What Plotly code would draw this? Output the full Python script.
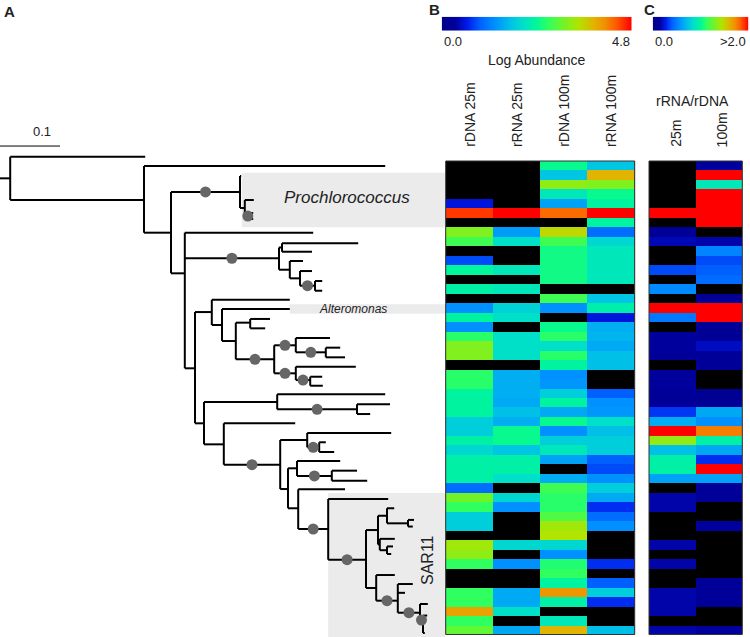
import numpy as np
import plotly.graph_objects as go
from collections import defaultdict

N = None
# ---------------- heatmap data ----------------
columns_B = ["rDNA 25m", "rRNA 25m", "rDNA 100m", "rRNA 100m"]
columns_C = ["25m", "100m"]
colorbar_B_ticks = ["0.0", "4.8"]
colorbar_C_ticks = ["0.0", ">2.0"]
log_abundance_max = 4.8
ratio_max = 2.0

rdna_25 = [N,N,N,N,0.58,4.56,N,3.17,2.78,N,0.86,2.40,N,2.30,N,1.34,2.35,1.34,2.64,3.17,
           3.17,N,2.64,2.64,2.35,2.35,2.35,1.87,1.87,2.30,1.97,2.30,2.30,2.30,1.06,3.07,2.69,1.87,1.87,N,
           3.36,3.26,2.69,N,N,2.69,2.69,3.98,2.69,2.98]
rrna_25 = [N,N,N,N,N,4.80,N,1.44,2.06,N,N,2.16,N,2.16,N,1.92,2.06,N,2.06,2.06,
           2.06,N,1.58,1.58,1.58,1.54,1.73,1.58,2.45,2.45,1.78,2.30,2.30,2.06,N,1.97,1.34,N,N,N,
           1.97,N,1.34,N,N,1.54,1.54,2.06,N,1.54]
rdna_100 = [2.45,1.78,3.26,2.16,1.49,4.32,N,3.55,2.78,2.50,2.50,2.50,2.50,N,2.78,1.34,N,2.45,2.64,2.06,
            2.64,2.35,1.34,1.39,1.87,2.35,1.54,2.45,1.34,1.87,2.16,1.49,N,1.58,2.78,2.64,2.64,2.88,3.36,3.46,
            1.97,1.34,2.59,2.69,2.35,4.08,2.30,N,2.16,3.84]
rrna_100 = [1.78,3.84,3.17,2.45,2.35,4.80,2.35,1.06,1.97,2.16,2.16,2.16,2.16,N,1.78,2.26,0.58,1.58,1.63,1.54,
            1.73,1.73,N,N,0.96,1.34,1.39,2.06,1.73,1.87,1.87,0.96,0.86,1.34,1.87,1.54,0.72,1.06,1.34,N,
            N,N,0.72,N,0.96,1.87,0.72,N,N,1.73]
ratio_25 = [N,N,N,N,N,2.6,N,0.10,0.18,N,N,0.36,N,0.54,N,3.1,0.48,N,0.14,0.14,
            0.12,N,0.14,0.14,0.12,0.12,0.32,0.66,2.4,1.36,0.72,0.96,0.96,0.62,N,0.16,0.16,N,N,N,
            0.16,N,0.16,N,N,0.16,0.16,0.16,N,0.16]
ratio_100 = [0.14,2.8,0.90,3.5,2.2,4.1,2.6,N,0.16,0.52,0.36,0.40,0.44,N,0.10,2.3,2.9,0.10,0.10,0.20,
             0.12,0.12,N,N,0.08,0.10,0.64,0.56,1.76,0.96,0.64,0.30,2.5,0.62,0.12,0.12,N,N,0.14,N,
             N,N,N,N,0.12,0.12,0.12,N,N,0.14]

# ---------------- tree data: (node, parent, depth [subst./site], row position, supported) ----------------
tree_nodes = [
    ("R", None, 0.017, 1.33, 0),
    ("A", "R", 0.242, -0.95, 0),
    ("N1", "R", 0.240, 3.62, 0),
    ("B", "N1", 0.642, 0.03, 0),
    ("N2", "N1", 0.285, 7.07, 0),
    ("Pro", "N2", 0.400, 2.77, 1),
    ("p1", "Pro", 0.402, 1.08, 0),
    ("p2", "Pro", 0.408, 4.46, 0),
    ("p3", "p2", 0.423, 3.62, 0),
    ("p4", "p2", 0.418, 5.31, 1),
    ("p5", "p4", 0.422, 4.99, 0),
    ("p6", "p4", 0.422, 5.62, 0),
    ("N4", "N2", 0.308, 11.36, 0),
    ("La", "N4", 0.522, 7.07, 0),
    ("C1", "N4", 0.465, 9.77, 1),
    ("C2", "C1", 0.470, 8.63, 0),
    ("c2a", "C2", 0.597, 8.19, 0),
    ("c2b", "C2", 0.520, 9.08, 0),
    ("C3", "C1", 0.483, 10.98, 0),
    ("c3a", "C3", 0.505, 10.06, 0),
    ("C4", "C3", 0.500, 11.89, 0),
    ("c4a", "C4", 0.520, 11.12, 0),
    ("C5", "C4", 0.525, 12.67, 1),
    ("c5a", "C5", 0.537, 12.17, 0),
    ("c5b", "C5", 0.537, 13.20, 0),
    ("N5", "N4", 0.325, 21.39, 0),
    ("N7", "N5", 0.353, 15.45, 0),
    ("n7a", "N7", 0.483, 14.15, 0),
    ("N8", "N7", 0.370, 16.82, 0),
    ("Alt", "N8", 0.483, 15.13, 0),
    ("N9", "N8", 0.393, 18.51, 0),
    ("N10", "N9", 0.417, 16.57, 0),
    ("n10a", "N10", 0.450, 16.18, 0),
    ("n10b", "N10", 0.442, 17.17, 0),
    ("N11", "N9", 0.457, 20.44, 1),
    ("N12", "N11", 0.493, 18.96, 1),
    ("n12a", "N12", 0.550, 18.19, 0),
    ("N13", "N12", 0.543, 19.70, 1),
    ("n13a", "N13", 0.567, 19.21, 0),
    ("n13b", "N13", 0.575, 20.23, 0),
    ("N14", "N11", 0.493, 21.92, 1),
    ("n14a", "N14", 0.593, 21.22, 0),
    ("N15", "N14", 0.517, 22.63, 1),
    ("n15a", "N15", 0.537, 22.28, 0),
    ("n15b", "N15", 0.538, 23.23, 0),
    ("N6", "N5", 0.340, 27.20, 0),
    ("N16", "N6", 0.462, 24.95, 0),
    ("n16a", "N16", 0.642, 24.14, 0),
    ("N17", "N16", 0.595, 25.72, 1),
    ("n17a", "N17", 0.650, 25.19, 0),
    ("n17b", "N17", 0.617, 26.22, 0),
    ("N18", "N6", 0.373, 29.42, 0),
    ("n18a", "N18", 0.492, 27.20, 0),
    ("N19", "N18", 0.467, 31.57, 1),
    ("N20", "N19", 0.512, 28.96, 0),
    ("n20a", "N20", 0.652, 28.22, 0),
    ("N20b", "N20", 0.532, 29.73, 1),
    ("n20c", "N20b", 0.543, 29.20, 0),
    ("n20d", "N20b", 0.557, 30.23, 0),
    ("N21", "N19", 0.480, 34.14, 0),
    ("N22", "N21", 0.495, 31.95, 0),
    ("n22a", "N22", 0.567, 31.18, 0),
    ("N24", "N22", 0.553, 32.76, 1),
    ("n24a", "N24", 0.595, 32.20, 0),
    ("n24b", "N24", 0.612, 33.26, 0),
    ("N23", "N21", 0.497, 36.17, 0),
    ("n23a", "N23", 0.575, 34.17, 0),
    ("N25", "N23", 0.547, 38.36, 1),
    ("S1", "N25", 0.647, 35.19, 0),
    ("N26", "N25", 0.610, 41.60, 1),
    ("S2", "N26", 0.630, 38.47, 0),
    ("S3", "S2", 0.645, 36.96, 0),
    ("s3a", "S3", 0.657, 36.17, 0),
    ("S3b", "S3", 0.680, 37.76, 0),
    ("s3c", "S3b", 0.690, 37.40, 0),
    ("s3d", "S3b", 0.688, 38.10, 0),
    ("S4", "S2", 0.633, 40.00, 0),
    ("s4a", "S4", 0.658, 39.40, 0),
    ("S4b", "S4", 0.645, 40.60, 0),
    ("s4c", "S4b", 0.655, 40.20, 0),
    ("s4d", "S4b", 0.652, 41.00, 0),
    ("N28", "N26", 0.627, 44.59, 0),
    ("n28a", "N28", 0.658, 43.22, 0),
    ("N29", "N28", 0.663, 45.93, 1),
    ("n29a", "N29", 0.688, 44.17, 0),
    ("n29b", "N29", 0.675, 45.10, 0),
    ("N30", "N29", 0.700, 47.20, 1),
    ("n30a", "N30", 0.713, 46.28, 0),
    ("N31", "N30", 0.705, 47.97, 1),
    ("n31a", "N31", 0.712, 47.50, 0),
    ("n31b", "N31", 0.708, 49.34, 0),
]
scale_bar_length = 0.1

# clade highlight bands: (label, depth start, row top, row bottom)
clade_bands = [
    ("Prochlorococcus", 0.403, 0.73, 6.50),
    ("Alteromonas", 0.483, 14.63, 15.62),
    ("SAR11", 0.547, 34.56, 49.76),
]

# ---------------- styling ----------------
FONT = "Liberation Sans, Arial, sans-serif"
jet_like = [[0.0, '#000088'], [0.07, '#00009c'], [0.13, '#0018e8'], [0.2, '#0060ff'],
            [0.28, '#0090ff'], [0.36, '#00c0e8'], [0.43, '#00e0c8'], [0.5, '#00f898'],
            [0.56, '#30ff60'], [0.64, '#70f428'], [0.72, '#b0e400'], [0.8, '#e0b400'],
            [0.86, '#f09000'], [0.92, '#ff5a00'], [1.0, '#ff0000']]

W, H = 750, 637
def px(x): return x / W
def py(y): return 1 - y / H

fig = go.Figure()

# ---- tree ----
depth = {n[0]: n[2] for n in tree_nodes}
row = {n[0]: n[3] for n in tree_nodes}
children = defaultdict(list)
for nid, par, d, r, s in tree_nodes:
    if par is not None:
        children[par].append(nid)
xs, ys = [], []
for nid, par, d, r, s in tree_nodes:
    if par is None:
        xs += [0, d, None]; ys += [r, r, None]
    else:
        xs += [depth[par], d, None]; ys += [r, r, None]
    if children[nid]:
        rr = [row[c] for c in children[nid]]
        xs += [d, d, None]; ys += [min(rr), max(rr), None]
fig.add_trace(go.Scatter(x=xs, y=ys, mode="lines", line=dict(color="black", width=2),
                         xaxis="x", yaxis="y", hoverinfo="skip", showlegend=False))
sx = [(depth[p] + d) / 2 for nid, p, d, r, s in tree_nodes if s]
sy = [r for nid, p, d, r, s in tree_nodes if s]
fig.add_trace(go.Scatter(x=sx, y=sy, mode="markers", marker=dict(color="#666666", size=11),
                         xaxis="x", yaxis="y", hoverinfo="skip", showlegend=False))
# scale bar
fig.add_trace(go.Scatter(x=[0, scale_bar_length], y=[-2.08, -2.08], mode="lines",
                         line=dict(color="black", width=1), xaxis="x", yaxis="y",
                         hoverinfo="skip", showlegend=False))

# ---- heatmaps ----
def clean(v):
    return [np.nan if a is None else a for a in v]
zB = np.array([clean(rdna_25), clean(rrna_25), clean(rdna_100), clean(rrna_100)]).T
zC = np.array([clean(ratio_25), clean(ratio_100)]).T
rows = list(range(len(rdna_25)))
fig.add_trace(go.Heatmap(z=zB, x=list(range(4)), y=rows, colorscale=jet_like, zmin=0,
                         zmax=log_abundance_max, showscale=False, xaxis="x2", yaxis="y2", hoverongaps=False))
fig.add_trace(go.Heatmap(z=zC, x=list(range(2)), y=rows, colorscale=jet_like, zmin=0,
                         zmax=ratio_max, showscale=False, xaxis="x3", yaxis="y2", hoverongaps=False))
# colour bars
gB = np.linspace(0, log_abundance_max, 256)
fig.add_trace(go.Heatmap(z=[gB], x=gB, colorscale=jet_like, zmin=0, zmax=log_abundance_max,
                         showscale=False, xaxis="x4", yaxis="y4", hoverinfo="skip"))
gC = np.linspace(0, ratio_max, 256)
fig.add_trace(go.Heatmap(z=[gC], x=gC, colorscale=jet_like, zmin=0, zmax=ratio_max,
                         showscale=False, xaxis="x5", yaxis="y5", hoverinfo="skip"))

hid = dict(visible=False, showgrid=False, zeroline=False)
fig.update_layout(
    width=W, height=H, margin=dict(l=0, r=0, t=0, b=0),
    paper_bgcolor="white", plot_bgcolor="white",
    xaxis=dict(domain=[0, px(445)], range=[0, 445 / 600], **hid),
    yaxis=dict(domain=[0, py(140)], range=[49.764, -2.718], **hid),
    xaxis2=dict(domain=[px(445.7), px(634.7)], range=[-0.5, 3.5], anchor="y2", **hid),
    yaxis2=dict(domain=[py(634.5), py(161)], range=[49.5, -0.5], anchor="x2", **hid),
    xaxis3=dict(domain=[px(649), px(742.3)], range=[-0.5, 1.5], anchor="y2", **hid),
    xaxis4=dict(domain=[px(441.7), px(631.7)], anchor="y4", **hid),
    yaxis4=dict(domain=[py(30.7), py(16.7)], anchor="x4", **hid),
    xaxis5=dict(domain=[px(652.7), px(748.3)], anchor="y5", **hid),
    yaxis5=dict(domain=[py(30.7), py(16.7)], anchor="x5", **hid),
    showlegend=False,
)

shapes = []
for name, d0, r0, r1 in clade_bands:
    shapes.append(dict(type="rect", xref="x", yref="y", x0=d0, x1=445 / 600, y0=r0, y1=r1,
                       fillcolor="#ebebeb", line=dict(width=0), layer="below"))
for xr in ["x2", "x3"]:
    shapes.append(dict(type="rect", xref=f"{xr} domain", yref="y2 domain", x0=0, x1=1, y0=0, y1=1,
                       fillcolor="black", line=dict(width=0), layer="below"))
    shapes.append(dict(type="rect", xref=f"{xr} domain", yref="y2 domain", x0=0, x1=1, y0=0, y1=1,
                       fillcolor="rgba(0,0,0,0)", line=dict(color="#333333", width=1), layer="above"))
fig.update_layout(shapes=shapes)

ann = []
def text(t, x, y, size=13, xanchor="center", yanchor="middle", angle=0, bold=False, italic=False,
         color="#222222"):
    s = t
    if bold: s = f"<b>{s}</b>"
    if italic: s = f"<i>{s}</i>"
    ann.append(dict(text=s, x=px(x), y=py(y), xref="paper", yref="paper", showarrow=False,
                    xanchor=xanchor, yanchor=yanchor, textangle=angle,
                    font=dict(family=FONT, size=size, color=color)))

text("A", 9, 11, 15, bold=True)
text("B", 434, 10, 15, bold=True)
text("C", 649, 10, 15, bold=True)
text("0.1", 42, 131, 13)
text(colorbar_B_ticks[0], 441.7, 42, 13, xanchor="left")
text(colorbar_B_ticks[1], 631.7, 42, 13, xanchor="right")
text("Log Abundance", 537, 60, 14)
text(colorbar_C_ticks[0], 652.7, 42, 13, xanchor="left")
text(colorbar_C_ticks[1], 748.3, 42, 13, xanchor="right")
text("rRNA/rDNA", 692, 101, 14)
for i, c in enumerate(columns_B):
    text(c, 445.7 + 47.25 * (i + 0.5), 149, 14, yanchor="bottom", angle=-90)
for i, c in enumerate(columns_C):
    text(c, 649 + 46.6 * (i + 0.5) + 3, 149, 14, yanchor="bottom", angle=-90)
text("Prochlorococcus", 347, 197, 17, italic=True)
text("Alteromonas", 353, 309, 12, italic=True)
text("SAR11", 427, 560, 16, angle=-90)
fig.update_layout(annotations=ann)

fig.write_html("out.html", config={"displayModeBar": False},
               post_script="document.body.style.margin='0';document.body.style.overflow='hidden';")
